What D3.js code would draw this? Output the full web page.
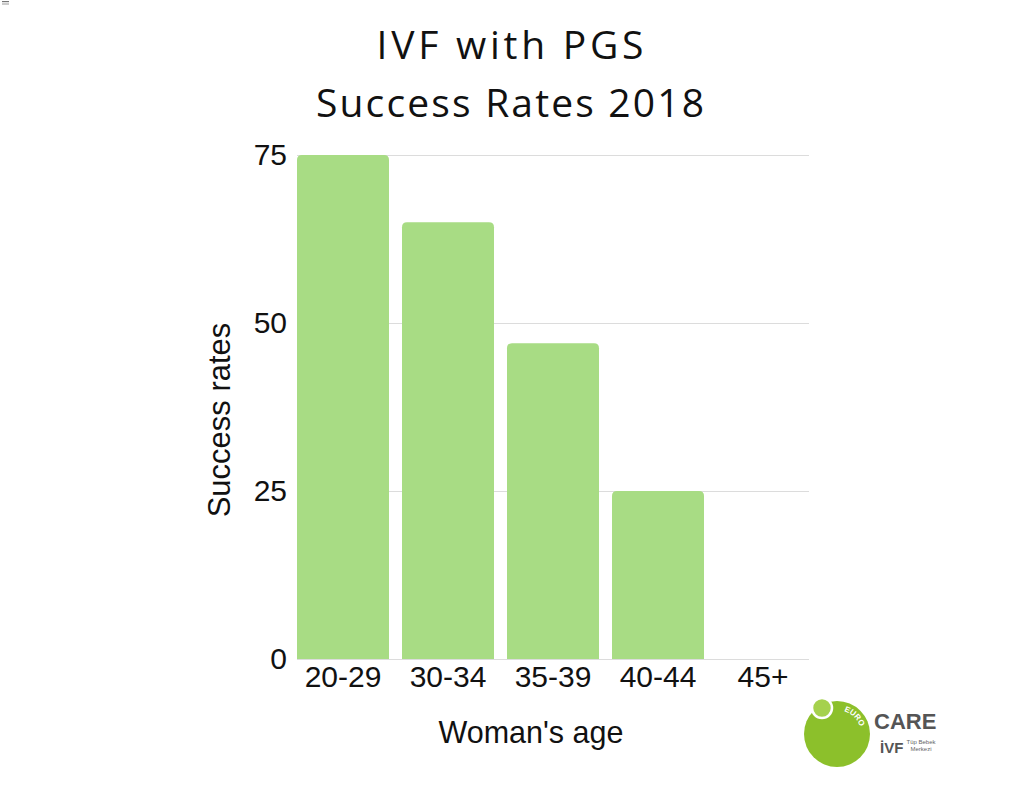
<!DOCTYPE html>
<html>
<head>
<meta charset="utf-8">
<script src="https://cdn.jsdelivr.net/npm/d3@7"></script>
<style>
  body { margin: 0; background: #fff; }
  svg { display: block; }
</style>
</head>
<body>
<div id="chart"></div>
<script>
// chart data
const ageGroups = ["20-29", "30-34", "35-39", "40-44", "45+"];
const successRates = [75, 65, 47, 25, 0];
const yTicks = [0, 25, 50, 75];
const titleLines = ["IVF with PGS", "Success Rates 2018"];

const W = 1024, H = 791;
const svg = d3.select("#chart").append("svg")
    .attr("width", W)
    .attr("height", H);

svg.append("rect").attr("width", W).attr("height", H).attr("fill", "#fff");

// little grey mark top-left
svg.append("rect").attr("x", 2).attr("y", 1).attr("width", 7).attr("height", 1.2).attr("fill", "#777");
svg.append("rect").attr("x", 2).attr("y", 3.5).attr("width", 7).attr("height", 1).attr("fill", "#999");

// scales
const x = d3.scaleBand()
    .domain(ageGroups)
    .range([297, 809])
    .paddingInner(13 / 105)
    .paddingOuter(0);

const y = d3.scaleLinear()
    .domain([0, 75])
    .range([659, 155]);

// gridlines
svg.append("g")
    .selectAll("line")
    .data(yTicks)
    .join("line")
    .attr("x1", 297)
    .attr("x2", 809)
    .attr("y1", d => y(d) + 0.5)
    .attr("y2", d => y(d) + 0.5)
    .attr("stroke", "#dcdcdc")
    .attr("stroke-width", 1);

// bars with rounded tops
function barPath(x0, y0, w, y1, r) {
    const h = y1 - y0;
    if (h <= 0) return "";
    r = Math.min(r, h, w / 2);
    return `M${x0},${y1}V${y0 + r}Q${x0},${y0} ${x0 + r},${y0}H${x0 + w - r}Q${x0 + w},${y0} ${x0 + w},${y0 + r}V${y1}Z`;
}

svg.append("g")
    .selectAll("path")
    .data(ageGroups.map((g, i) => ({ group: g, value: successRates[i] })))
    .join("path")
    .attr("d", d => barPath(x(d.group), y(d.value), x.bandwidth(), y(0), 5))
    .attr("fill", "#a8dc84");

const font = "'Liberation Sans', Arial, sans-serif";

// y tick labels
svg.append("g")
    .selectAll("text")
    .data(yTicks)
    .join("text")
    .attr("x", 287)
    .attr("y", d => y(d) + 9.5)
    .attr("text-anchor", "end")
    .attr("font-family", font)
    .attr("font-size", 30)
    .attr("fill", "#111")
    .text(d => d);

// x tick labels
svg.append("g")
    .selectAll("text")
    .data(ageGroups)
    .join("text")
    .attr("x", d => x(d) + x.bandwidth() / 2)
    .attr("y", 687)
    .attr("text-anchor", "middle")
    .attr("font-family", font)
    .attr("font-size", 30)
    .attr("fill", "#111")
    .text(d => d);

// axis titles
svg.append("text")
    .attr("x", 531)
    .attr("y", 743)
    .attr("text-anchor", "middle")
    .attr("font-family", font)
    .attr("font-size", 30.5)
    .attr("fill", "#111")
    .text("Woman's age");

svg.append("text")
    .attr("transform", "translate(230,420) rotate(-90)")
    .attr("text-anchor", "middle")
    .attr("font-family", font)
    .attr("font-size", 31)
    .attr("fill", "#111")
    .text("Success rates");

// title, stretched to the width of the original lines
const titleWidths = [267, 388];
const titleBase = [59, 117];
titleLines.forEach((t, i) => {
    const txt = svg.append("text")
        .attr("x", 510)
        .attr("y", titleBase[i])
        .attr("text-anchor", "middle")
        .attr("font-family", "'Open Sans', 'Noto Sans', sans-serif")
        .attr("font-size", 39)
        .attr("fill", "#111")
        .text(t);
    const len = txt.node().getComputedTextLength();
    const extra = (titleWidths[i] - len) / (t.length - 1);
    txt.attr("letter-spacing", extra)
        .attr("x", 510 + extra / 2);
});

// logo
const logo = svg.append("g").attr("transform", "translate(837,734)");
logo.append("circle").attr("r", 33).attr("fill", "#8cc02b");
logo.append("circle").attr("cx", -15).attr("cy", -26).attr("r", 10)
    .attr("fill", "#a5d14d").attr("stroke", "#fff").attr("stroke-width", 2.5);
logo.append("path").attr("id", "euroArc")
    .attr("d", d3.arc()({ innerRadius: 24, outerRadius: 24, startAngle: 0.05, endAngle: 1.9 }))
    .attr("fill", "none");
logo.append("text")
    .attr("font-family", font)
    .attr("font-size", 8)
    .attr("font-weight", "bold")
    .attr("fill", "#fff")
    .append("textPath")
    .attr("href", "#euroArc")
    .attr("startOffset", 6)
    .text("EURO");

svg.append("text")
    .attr("x", 874)
    .attr("y", 729)
    .attr("font-family", font)
    .attr("font-weight", "bold")
    .attr("font-size", 22)
    .attr("fill", "#555")
    .text("CARE");
svg.append("text")
    .attr("x", 880)
    .attr("y", 753)
    .attr("font-family", font)
    .attr("font-weight", "bold")
    .attr("font-size", 15)
    .attr("fill", "#555")
    .text("İVF");
svg.append("text")
    .attr("x", 921)
    .attr("y", 744)
    .attr("text-anchor", "middle")
    .attr("font-family", font)
    .attr("font-size", 6)
    .attr("fill", "#666")
    .text("Tüp Bebek");
svg.append("text")
    .attr("x", 921)
    .attr("y", 751)
    .attr("text-anchor", "middle")
    .attr("font-family", font)
    .attr("font-size", 6)
    .attr("fill", "#666")
    .text("Merkezi");
</script>
</body>
</html>
